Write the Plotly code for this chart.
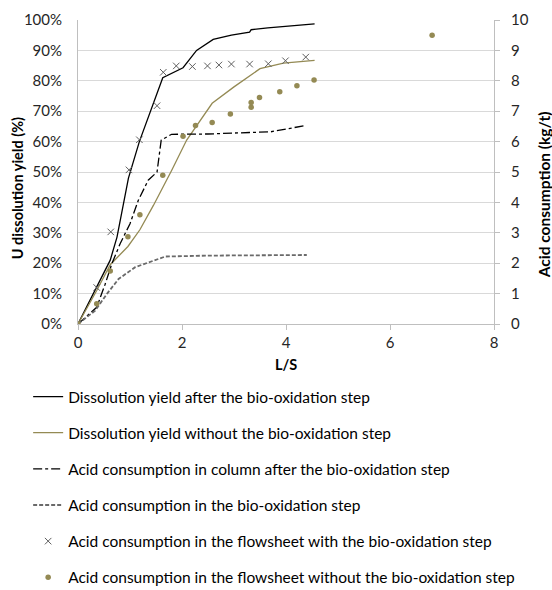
import plotly.graph_objects as go

# Dissolution yield after bio-oxidation (%)
bio_x = [0, 0.36, 0.62, 0.75, 0.97, 1.18, 1.63, 2.02, 2.28, 2.6, 2.95, 3.3, 3.33, 3.65, 4.0, 4.55]
bio_y = [0, 12, 21, 28.6, 48, 60, 81, 84.3, 90, 93.6, 95, 96, 96.8, 97.4, 98, 98.7]

# Dissolution yield without bio-oxidation (%)
nobio_x = [0, 0.36, 0.62, 0.96, 1.19, 1.45, 1.8, 2.09, 2.58, 3.0, 3.5, 3.95, 4.55]
nobio_y = [0, 11, 19.5, 25.5, 31, 39, 50.5, 60.5, 72.6, 78, 84, 85.8, 86.7]

# Acid consumption in column after bio-oxidation (kg/t)
col_x = [0, 0.36, 0.52, 0.65, 0.81, 1.0, 1.16, 1.35, 1.52, 1.6, 1.8, 2.5, 3.3, 3.7, 4.38]
col_y = [0, 0.55, 1.3, 1.98, 2.64, 3.3, 4.07, 4.73, 5.0, 6.05, 6.24, 6.25, 6.3, 6.32, 6.53]

# Acid consumption in bio-oxidation step (kg/t)
ox_x = [0, 0.33, 0.56, 0.78, 1.1, 1.49, 1.68, 2.5, 3.3, 4.4]
ox_y = [0, 0.44, 1.0, 1.48, 1.87, 2.09, 2.22, 2.25, 2.26, 2.27]

# Acid consumption in flowsheet with bio-oxidation (kg/t)
fw_x = [0, 0.36, 0.63, 0.98, 1.18, 1.52, 1.64, 1.89, 2.2, 2.49, 2.71, 2.95, 3.3, 3.66, 3.99, 4.38]
fw_y = [0, 1.2, 3.03, 5.07, 6.06, 7.18, 8.28, 8.49, 8.47, 8.49, 8.52, 8.55, 8.55, 8.56, 8.66, 8.78]

# Acid consumption in flowsheet without bio-oxidation (kg/t)
fn_x = [0, 0.36, 0.62, 0.96, 1.19, 1.63, 2.02, 2.26, 2.58, 2.93, 3.33, 3.33, 3.49, 3.88, 4.21, 4.54, 6.81]
fn_y = [0, 0.67, 1.74, 2.87, 3.59, 4.89, 6.18, 6.53, 6.63, 6.91, 7.13, 7.29, 7.45, 7.64, 7.84, 8.03, 9.5]

left_ticks = list(range(0, 101, 10))
right_ticks = list(range(0, 11))

left_title = "U dissolution yield (%)"
right_title = "Acid consumption (kg/t)"
x_title = "L/S"

OLIVE = "#948A54"
FONT = "Lato"

fig = go.Figure()
fig.add_trace(go.Scatter(x=bio_x, y=bio_y, mode="lines", name="Dissolution yield after the bio-oxidation step",
                         line=dict(color="#000000", width=1.3), legendgroup="a"))
fig.add_trace(go.Scatter(x=nobio_x, y=nobio_y, mode="lines", name="Dissolution yield without the bio-oxidation step",
                         line=dict(color=OLIVE, width=1.3), legendgroup="b"))
fig.add_trace(go.Scatter(x=col_x, y=col_y, mode="lines", name="Acid consumption in column after the bio-oxidation step",
                         line=dict(color="#000000", width=1.3, dash="dashdot"), yaxis="y2", legendgroup="c"))
fig.add_trace(go.Scatter(x=ox_x, y=ox_y, mode="lines", name="Acid consumption in the bio-oxidation step",
                         line=dict(color="#6a6a6a", width=1.8, dash="4px,2px"), yaxis="y2", legendgroup="d"))
fig.add_trace(go.Scatter(x=fw_x, y=fw_y, mode="markers", name="Acid consumption in the flowsheet with the bio-oxidation step",
                         marker=dict(symbol="x-thin", size=6.5, line=dict(color="#5f5f5f", width=1)), yaxis="y2", legendgroup="e"))
fig.add_trace(go.Scatter(x=fn_x, y=fn_y, mode="markers", name="Acid consumption in the flowsheet without the bio-oxidation step",
                         marker=dict(symbol="circle", size=5.5, color=OLIVE), yaxis="y2", legendgroup="f"))

fig.update_layout(
    width=552, height=590,
    margin=dict(l=78, r=58, t=20, b=266, autoexpand=False),
    paper_bgcolor="white", plot_bgcolor="white",
    font=dict(family=FONT, size=15, color="#262626"),
    xaxis=dict(range=[0, 8], tickvals=[0, 2, 4, 6, 8], ticks="outside", ticklen=5, tickcolor="#bfbfbf",
               showline=True, linecolor="#bfbfbf", showgrid=False, zeroline=False,
               title=dict(text=f"<b>{x_title}</b>", font=dict(size=14.5, color="#000"), standoff=9)),
    yaxis=dict(range=[0, 100], tickvals=left_ticks, ticktext=[f"{v}%" for v in left_ticks],
               showgrid=True, gridcolor="#d9d9d9", showline=True, linecolor="#bfbfbf", zeroline=False,
               ticks="", ticklabelstandoff=12),
    yaxis2=dict(range=[0, 10], tickvals=right_ticks, overlaying="y", side="right", showgrid=False,
                showline=True, linecolor="#bfbfbf", zeroline=False, ticks="outside", ticklen=5, tickcolor="#bfbfbf",
                ticklabelstandoff=8),
    legend=dict(xref="container", yref="container", x=0.051, y=0.356, xanchor="left", yanchor="top",
                orientation="v",
                font=dict(size=15.5, color="#000", family=FONT), itemwidth=30, tracegroupgap=13,
                bgcolor="rgba(0,0,0,0)"),
    showlegend=True,
)

fig.add_annotation(text=f"<b>{left_title}</b>", textangle=-90, xref="paper", yref="paper",
                   x=(17 - 78) / 416, y=(323.5 - 188) / 303.5, xanchor="center", yanchor="middle",
                   showarrow=False, font=dict(size=14.5, color="#000", family=FONT))
fig.add_annotation(text=f"<b>{right_title}</b>", textangle=-90, xref="paper", yref="paper",
                   x=(544 - 78) / 416, y=(323.5 - 195) / 303.5, xanchor="center", yanchor="middle",
                   showarrow=False, font=dict(size=15.5, color="#000", family=FONT))

fig.write_html("out.html")
